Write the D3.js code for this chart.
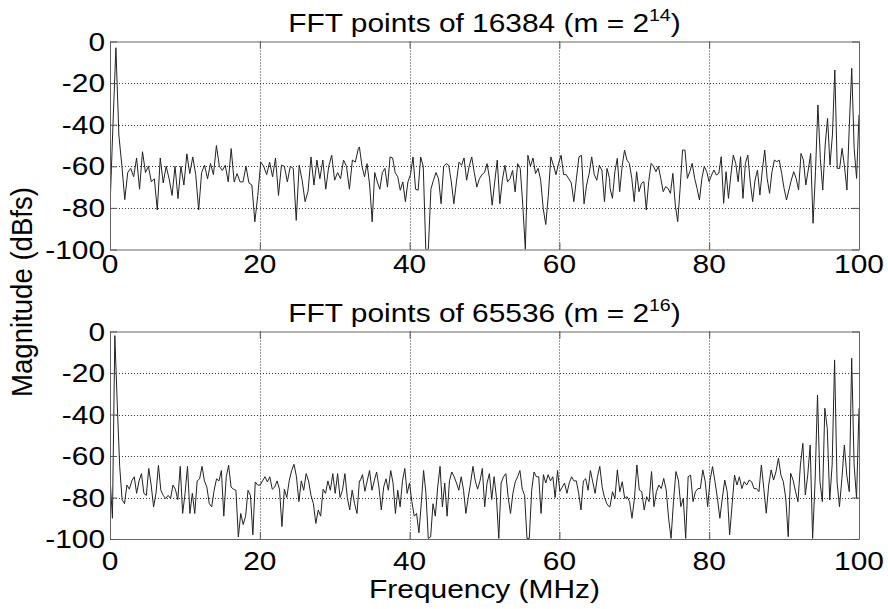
<!DOCTYPE html>
<html>
<head>
<meta charset="utf-8">
<script src="https://cdn.jsdelivr.net/npm/d3@7"></script>
<style>
  body { margin: 0; background: #fff; }
  text { font-family: "Liberation Sans", Arial, sans-serif; fill: #000; }
</style>
</head>
<body>
<div id="chart"></div>
<script>
// tick values
const xTicks = [0, 20, 40, 60, 80, 100];
const yTicks = [0, -20, -40, -60, -80, -100];

// magnitudes (dBfs), in three frequency pieces per panel
const top16k_a = [-80, -40, -3, -45, -59.5, -76, -63, -61, -65, -56, -71, -53, -63, -60, -67.5, -66, -81, -56, -68, -60, -66, -74, -60, -75.5, -60, -69, -54, -63.5, -55.5, -64, -81, -63, -59.5, -66, -58.7, -64, -50, -60, -62, -59.5, -67.5, -51.5, -67.5, -63.5, -67.5, -67.5, -60, -68, -69, -86.7, -74, -58, -60, -64, -58, -65, -56, -74, -59.5, -60, -67.5, -60, -61, -86, -59.5, -66.7, -77, -72, -55.5, -69, -57, -66, -57, -71, -60, -54.7, -66.7, -63, -66, -57, -60, -71, -57, -58, -51.5];
const top16k_b = [-50.7, -60, -65, -58.7, -69, -86.7, -63, -67.5, -71, -63, -61, -70, -55.5, -56, -63, -65, -71.5, -67.5, -77, -67.5, -64, -55.5, -71, -71.5, -55.5, -60, -100, -100, -71, -66.7, -63, -66, -78, -60, -58.7, -59.5, -67.5, -78, -67.5, -58, -59.5, -56, -66.7, -60, -55.5, -63, -70, -66, -64, -63, -58.7, -66, -78.7, -67.5, -57, -78, -66.7, -59.5, -67.5, -66, -62, -72.3, -58.7, -61, -78.7, -100, -54.7, -60, -56, -63.5, -61, -66.7, -80.3, -88, -74, -55.5, -59.5, -64, -58.7, -54.7, -64, -64, -66, -68, -77, -66, -55.5, -54.7, -78, -69, -63.5, -55.5, -64, -66.7, -59.5, -62, -77, -61, -66];
const top16k_c = [-70.6, -75.4, -62.6, -56.2, -72.2, -60, -52.2, -57, -58.6, -65.8, -77, -62.6, -72.2, -68.2, -67.4, -81, -67.4, -58.6, -60, -62.6, -60, -65.8, -72.2, -69.8, -70.6, -73, -63.4, -78.6, -86.6, -70.6, -52.2, -52.2, -65.8, -62.6, -58.6, -65.8, -70.6, -76.2, -65.8, -60, -62.6, -67.4, -64.2, -61.8, -64.2, -63.4, -55.4, -77.8, -62.6, -75.4, -64.2, -54.6, -58.6, -67.4, -55.4, -75.4, -58.6, -54.6, -67.4, -77, -66.6, -61.8, -73.8, -61.8, -52.2, -65.8, -73, -62.6, -57, -57.8, -57, -63.4, -70.6, -76.2, -71.4, -66.6, -62.6, -65.8, -71.4, -53.8, -57, -69, -61.8, -53.8, -87.4, -62.6, -30.5, -56.2, -71.4, -49.8, -37, -59.4, -45, -13.7, -61, -61, -51.4, -60, -71.4, -40.2, -12.9, -51.4, -65.8, -35.3];

const bot65k_a = [-70, -90, -2, -35, -65, -81, -83, -74, -76, -72, -70, -78, -72, -68.5, -78, -79, -66, -74, -84.5, -78, -64.5, -76.5, -79, -80.5, -79, -80.5, -74, -76, -81, -65, -87.7, -78, -65, -87.7, -78, -87.7, -72, -71, -65, -72, -75, -83, -84.5, -76.5, -71, -72, -67, -89, -70, -64.5, -75, -76, -76.5, -99, -87.7, -93, -89, -76.5, -79, -98, -72.5, -74, -74, -72, -70, -72.5, -70, -76, -75, -72, -76, -94, -76, -80, -72, -67, -64, -70, -82, -72, -76.5, -68.5, -72, -79, -83, -92.5, -86, -89, -76, -78, -72, -76.5, -68.5, -78, -68.5, -80, -76.5, -68.5, -80, -86, -76.5, -83, -87.7, -72];
const bot65k_b = [-72, -69, -77, -72, -67, -76.5, -72, -67.7, -75, -86, -75, -71, -76.5, -67, -73, -87.7, -76.5, -84.5, -72, -66, -78, -73, -82, -89, -87.7, -97, -83, -67, -78, -99.7, -99, -83, -89, -75, -65, -84.5, -73, -89, -72, -67.7, -70, -73, -76.5, -70, -76.5, -87.7, -80, -73, -65, -72, -76, -72, -66, -84.5, -73, -68.5, -81, -70, -80, -99.7, -73, -70, -68.5, -80, -87.7, -78, -72.5, -70, -67, -76, -79, -99.7, -99.7, -76.5, -67.7, -70, -70, -87.7, -69, -73, -69, -72, -70, -80, -67, -77, -75, -73, -78, -73, -70, -72, -72, -78, -86, -72, -71, -76.5, -67, -72.5, -78, -70, -65, -75, -80, -83, -84.5];
const bot65k_c = [-84.4, -77.2, -80.4, -66.7, -77.2, -72.4, -80.4, -79.6, -82, -90, -80.4, -64.3, -76.4, -77.2, -86, -79.6, -82, -67.5, -84.4, -77.2, -74, -75.7, -70.8, -76.4, -90, -99.7, -82, -67.5, -71.6, -84.4, -80.4, -99.7, -70, -69.2, -82, -77.2, -75.7, -75.7, -66.7, -72.4, -84.4, -71.6, -65.1, -72.4, -80.4, -90, -80.4, -71.6, -77.2, -98, -83.6, -69.2, -74, -70, -75.7, -72.4, -74, -71.6, -72.4, -75.7, -75.7, -77.2, -64.3, -75.7, -87.6, -74, -66.7, -71.6, -67.5, -61, -69.2, -72.4, -80.4, -98.9, -68.3, -71.6, -77.2, -82, -64.3, -53.9, -78.8, -69.2, -54.7, -99.7, -72.4, -30.6, -72.4, -82, -37, -46.7, -81.2, -64.3, -13.7, -72.4, -84.4, -70.8, -54.7, -69.2, -77.2, -12.9, -64.3, -80.4, -37];

// frequency span (MHz) each piece covers
const topSpans = [[0, 33.15], [33.3, 66.7], [66.76, 100]];
const botSpans = [[0, 33.3], [33.4, 66.65], [66.76, 100]];

let width = 888, height = 609;
const sx = 1.15;   // text in the original is stretched sideways
const fs = 26;

const svg = d3.select("#chart")
  .append("svg")
  .attr("width", width)
  .attr("height", height);

let x = d3.scaleLinear().domain([0, 100]).range([110, 859]);

const panels = [
  { id: "p1", title: "FFT points of 16384 (m = 2", exp: "14", y0: 41.5, y1: 249.5, titleY: 32, labelY: 273,
    pieces: [top16k_a, top16k_b, top16k_c], spans: topSpans },
  { id: "p2", title: "FFT points of 65536 (m = 2", exp: "16", y0: 331.5, y1: 539, titleY: 322, labelY: 570,
    pieces: [bot65k_a, bot65k_b, bot65k_c], spans: botSpans }
];

// stretched text helper
function label(g, str, tx, ty, anchor) {
  return g.append("text")
    .attr("transform", `translate(${tx},${ty}) scale(${sx},1)`)
    .attr("text-anchor", anchor)
    .style("font-size", fs + "px")
    .text(str);
}

panels.forEach(p => {
  let y = d3.scaleLinear().domain([-100, 0]).range([p.y1, p.y0]);
  const g = svg.append("g");

  // dotted grid
  g.append("g").selectAll("line")
    .data(xTicks.slice(1, -1))
    .join("line")
    .attr("x1", d => Math.round(x(d)) + 0.5).attr("x2", d => Math.round(x(d)) + 0.5)
    .attr("y1", p.y0).attr("y2", p.y1)
    .attr("stroke", "#333").attr("stroke-dasharray", "1,2");
  g.append("g").selectAll("line")
    .data(yTicks.slice(1, -1))
    .join("line")
    .attr("y1", d => Math.round(y(d)) + 0.5).attr("y2", d => Math.round(y(d)) + 0.5)
    .attr("x1", x(0)).attr("x2", x(100))
    .attr("stroke", "#333").attr("stroke-dasharray", "1,2");

  // the spectrum
  const pts = [];
  p.pieces.forEach((arr, i) => {
    const [lo, hi] = p.spans[i];
    arr.forEach((v, j) => pts.push({ f: lo + j * (hi - lo) / (arr.length - 1), v: v }));
  });

  svg.append("clipPath").attr("id", "clip-" + p.id)
    .append("rect").attr("x", x(0)).attr("y", p.y0).attr("width", x(100) - x(0)).attr("height", p.y1 - p.y0);

  g.append("path")
    .datum(pts)
    .attr("clip-path", `url(#clip-${p.id})`)
    .attr("fill", "none")
    .attr("stroke", "#222")
    .attr("stroke-width", 1)
    .attr("d", d3.line().x(d => x(d.f)).y(d => y(d.v)));

  // frame with inward ticks on all four sides
  const axisStyle = sel => {
    sel.select(".domain").attr("stroke", "#666");
    sel.selectAll(".tick line").attr("stroke", "#555");
    sel.selectAll("text").remove();
  };
  g.append("g").attr("transform", `translate(0,${p.y1})`)
    .call(d3.axisBottom(x).tickValues(xTicks).tickSize(-7).tickSizeOuter(0)).call(axisStyle);
  g.append("g").attr("transform", `translate(0,${p.y0})`)
    .call(d3.axisTop(x).tickValues(xTicks).tickSize(-7).tickSizeOuter(0)).call(axisStyle);
  g.append("g").attr("transform", `translate(${x(0)},0)`)
    .call(d3.axisLeft(y).tickValues(yTicks).tickSize(-7).tickSizeOuter(0)).call(axisStyle);
  g.append("g").attr("transform", `translate(${x(100)},0)`)
    .call(d3.axisRight(y).tickValues(yTicks).tickSize(-7).tickSizeOuter(0)).call(axisStyle);

  // tick labels
  xTicks.forEach(t => label(g, t, x(t), p.labelY, "middle"));
  yTicks.forEach(t => label(g, t, x(0) - 5, y(t) + 9, "end"));

  // title with superscript exponent
  const tt = g.append("text")
    .attr("transform", `translate(${(x(0) + x(100)) / 2},${p.titleY}) scale(${sx},1)`)
    .attr("text-anchor", "middle")
    .style("font-size", fs + "px");
  tt.append("tspan").text(p.title);
  tt.append("tspan").attr("dy", -11).style("font-size", "17px").text(p.exp);
  tt.append("tspan").attr("dy", 11).text(")");
});

// axis titles
label(svg, "Frequency (MHz)", (x(0) + x(100)) / 2, 598, "middle");
svg.append("text")
  .attr("transform", "translate(32,292) scale(1.15,1.06) rotate(-90)")
  .attr("text-anchor", "middle")
  .style("font-size", fs + "px")
  .text("Magnitude (dBfs)");
</script>
</body>
</html>
